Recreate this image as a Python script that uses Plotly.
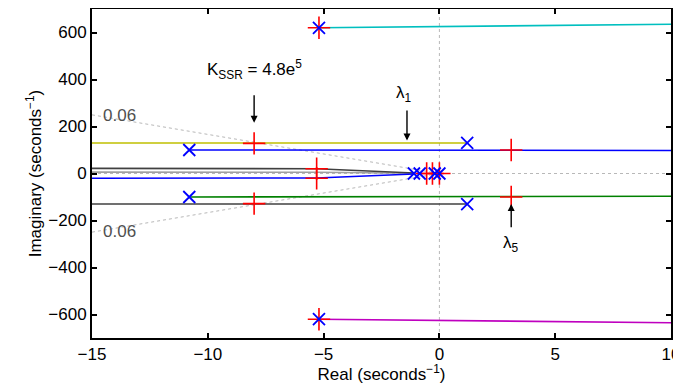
import plotly.graph_objects as go

# Root-locus branches (real, imaginary)
cyan_x, cyan_y = [-5.2, 10], [620, 635]
magenta_x, magenta_y = [-5.2, 10], [-620, -635]
yellow_x, yellow_y = [-15, 1.2], [130, 130]
blue_up_x, blue_up_y = [-10.8, 10], [100, 98]
green_x, green_y = [-10.8, 10], [-100, -97]
gray_low_x, gray_low_y = [-15, 1.2], [-130, -130]
gray_mid_x, gray_mid_y = [-15, -5.3, -1.1], [22, 20, 2]
gray_mid2_x, gray_mid2_y = [-15, -5.3, -1.1], [6, 5, 1]
blue_mid_x, blue_mid_y = [-15, -5.3, -1.1], [-20, -19, -2]

# Open-loop poles (x markers)
pole_x = [-5.2, -5.2, -10.8, -10.8, 1.2, 1.2, -1.1, -0.85, -0.2, 0.0]
pole_y = [620, -620, 100, -100, 130, -130, 0, 0, 0, 0]

# Closed-loop poles at K_SSR (+ markers)
cl_x = [-5.2, -5.2, -8.0, -8.0, 3.1, 3.1, -5.3, -5.3, -0.55, -0.3, 0.0]
cl_y = [620, -620, 128, -128, 100, -100, 20, -20, 0, 0, 0]

# Damping ratio line 0.06
zeta = 0.06
damp_x = [-15, 0]
damp_slope = (1 - zeta ** 2) ** 0.5 / zeta

x_ticks = [-15, -10, -5, 0, 5, 10]
y_ticks = [-600, -400, -200, 0, 200, 400, 600]

fig = go.Figure()

dot = dict(color="#b8b8b8", width=1, dash="dot")
fig.add_trace(go.Scatter(x=[-15, 10], y=[0, 0], mode="lines", line=dot))
fig.add_trace(go.Scatter(x=[0, 0], y=[-700, 700], mode="lines", line=dot))
fig.add_trace(go.Scatter(x=damp_x, y=[-damp_x[0] * damp_slope, 0], mode="lines", line=dot))
fig.add_trace(go.Scatter(x=damp_x, y=[damp_x[0] * damp_slope, 0], mode="lines", line=dot))

def branch(x, y, color):
    fig.add_trace(go.Scatter(x=x, y=y, mode="lines", line=dict(color=color, width=1.6)))

branch(cyan_x, cyan_y, "#00bfbf")
branch(magenta_x, magenta_y, "#bf00bf")
branch(yellow_x, yellow_y, "#bfbf00")
branch(blue_up_x, blue_up_y, "#0000ff")
branch(green_x, green_y, "#008000")
branch(gray_low_x, gray_low_y, "#404040")
branch(gray_mid2_x, gray_mid2_y, "#a0a0a0")
branch(gray_mid_x, gray_mid_y, "#404040")
branch(blue_mid_x, blue_mid_y, "#0000ff")

fig.add_trace(go.Scatter(x=cl_x, y=cl_y, mode="markers",
                         marker=dict(symbol="cross-thin-open", size=16, color="#ff0000",
                                     line=dict(color="#ff0000", width=1.6))))
fig.add_trace(go.Scatter(x=pole_x, y=pole_y, mode="markers",
                         marker=dict(symbol="x-thin-open", size=12, color="#0000ff",
                                     line=dict(color="#0000ff", width=1.8))))

font = dict(family="Liberation Sans, Arial, sans-serif", size=17, color="black")

fig.add_annotation(x=-8, y=216, ax=-8, ay=339, xref="x", yref="y", axref="x", ayref="y",
                   showarrow=True, arrowhead=2, arrowsize=1, arrowwidth=1.4, arrowcolor="black", text="")
fig.add_annotation(x=-8.0, y=380, text="K<sub>SSR</sub> = 4.8e<sup>5</sup>", showarrow=False,
                   font=font, xanchor="center", yanchor="bottom")
fig.add_annotation(x=-1.4, y=140, ax=-1.4, ay=275, xref="x", yref="y", axref="x", ayref="y",
                   showarrow=True, arrowhead=2, arrowsize=1, arrowwidth=1.4, arrowcolor="black", text="")
fig.add_annotation(x=-1.55, y=282, text="λ<sub>1</sub>", showarrow=False, font=font,
                   xanchor="center", yanchor="bottom")
fig.add_annotation(x=3.1, y=-130, ax=3.1, ay=-235, xref="x", yref="y", axref="x", ayref="y",
                   showarrow=True, arrowhead=2, arrowsize=1, arrowwidth=1.4, arrowcolor="black", text="")
fig.add_annotation(x=3.1, y=-245, text="λ<sub>5</sub>", showarrow=False, font=font,
                   xanchor="center", yanchor="top")
gfont = dict(family="Liberation Sans, Arial, sans-serif", size=17, color="#505050")
fig.add_annotation(x=-14.6, y=245, text="0.06", showarrow=False, font=gfont, xanchor="left", yanchor="middle")
fig.add_annotation(x=-14.6, y=-245, text="0.06", showarrow=False, font=gfont, xanchor="left", yanchor="middle")

axis_common = dict(showline=True, linecolor="black", linewidth=2, mirror="ticks",
                   ticks="inside", ticklen=5, tickwidth=1.5, tickcolor="black",
                   showgrid=False, zeroline=False, tickfont=font, automargin=False)

fig.update_xaxes(range=[-15, 10], tickvals=x_ticks,
                 ticktext=[("−" + str(-t)) if t < 0 else str(t) for t in x_ticks],
                 ticklabeloverflow="allow",
                 title=dict(text="Real (seconds<sup>−1</sup>)", font=font, standoff=0), **axis_common)
fig.update_yaxes(range=[-700, 700], tickvals=y_ticks,
                 ticktext=[("−" + str(-t)) if t < 0 else str(t) for t in y_ticks],
                 title=dict(text="Imaginary (seconds<sup>−1</sup>)", font=font, standoff=2), **axis_common)

# page body adds an 8px margin; figure sized so the plot area lands where the reference's is
fig.update_layout(width=673, height=376, showlegend=False,
                  margin=dict(l=84, r=10, t=1, b=46),
                  paper_bgcolor="white", plot_bgcolor="white")

fig.write_html("out.html")
